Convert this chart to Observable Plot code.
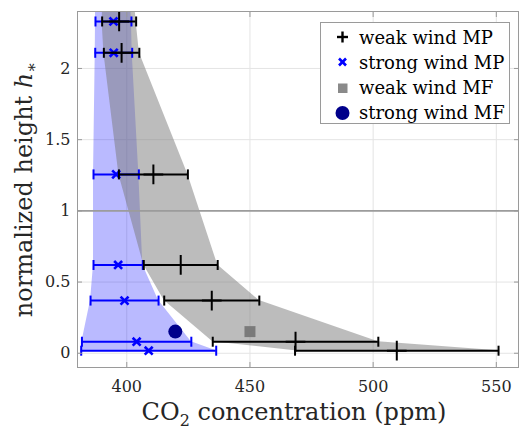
<!DOCTYPE html>
<html><head><meta charset="utf-8">
<script src="https://cdn.jsdelivr.net/npm/d3@7"></script>
<script src="https://cdn.jsdelivr.net/npm/@observablehq/plot@0.6"></script>
<style>
body{margin:0;background:#fff;}
#wrap{position:relative;width:519px;height:431px;overflow:hidden;}
#legend{position:absolute;left:320px;top:22px;width:190px;height:102px;border:1px solid #9a9a9a;background:#fff;font-family:"DejaVu Serif";font-size:18px;color:#000;box-sizing:border-box;}
.item{position:absolute;left:0;height:26px;display:flex;align-items:center;white-space:nowrap;}
.item svg{width:38px;height:26px;flex:none;}
</style></head><body><div id="wrap"></div>
<script>
// ---- data ----
const heights    = [2.33, 2.11, 1.256, 0.62, 0.37, 0.081, 0.018];
const weakMean   = [396.9, 397.9, 410.8, 421.9, 434.5, 468.5, 509.6];
const weakErr    = [6.9, 7.2, 14.0, 15.0, 19.3, 33.6, 41.3];
const strongMean = [394.6, 394.7, 395.7, 396.5, 399.1, 404.0, 408.9];
const strongErr  = [7.3, 7.5, 9.2, 10.0, 13.8, 22.2, 27.4];
// band extension above the top row (to the top edge)
const bandTopH       = 2.45;
const weakBandTop    = [390.2, 403.2];
const strongBandTop  = [387.3, 401.6];
// mixed-flow points
const mfLabels = ["weak wind MF", "strong wind MF"];
const mfX = [450, 419.7];
const mfH = [0.152, 0.152];
// axes
const xTicks = [400, 450, 500, 550];
const yTicks = [0, 0.5, 1, 1.5, 2];
const xDomain = [380, 559];
const yDomain = [-0.1, 2.4];
const refLine = [1];
const legendLabels = ["weak wind MP", "strong wind MP", "weak wind MF", "strong wind MF"];

// ---- tables ----
const weak = heights.map((h, i) => ({h, m: weakMean[i], lo: weakMean[i] - weakErr[i], hi: weakMean[i] + weakErr[i]}));
const strong = heights.map((h, i) => ({h, m: strongMean[i], lo: strongMean[i] - strongErr[i], hi: strongMean[i] + strongErr[i]}));
const weakBand = [{h: bandTopH, lo: weakBandTop[0], hi: weakBandTop[1]}, ...weak];
const strongBand = [{h: bandTopH, lo: strongBandTop[0], hi: strongBandTop[1]}, ...strong];
const mf = mfLabels.map((k, i) => ({k, x: mfX[i], h: mfH[i]}));

const cap = {draw(ctx, size) { const r = Math.sqrt(size / Math.PI); ctx.moveTo(0, -r); ctx.lineTo(0, r); }};

function bars(data, color) {
  return [
    Plot.ruleY(data, {y: "h", x1: "lo", x2: "hi", stroke: color, strokeWidth: 2}),
    Plot.dot(data, {x: "lo", y: "h", symbol: cap, r: 5, fill: "none", stroke: color, strokeWidth: 2}),
    Plot.dot(data, {x: "hi", y: "h", symbol: cap, r: 5, fill: "none", stroke: color, strokeWidth: 2})
  ];
}

const chart = Plot.plot({
  width: 519, height: 431,
  marginLeft: 77, marginTop: 11, marginRight: 1, marginBottom: 64,
  style: {fontFamily: "DejaVu Serif", fontSize: "16px", color: "#262626", background: "white", overflow: "visible"},
  x: {domain: xDomain, label: null},
  y: {domain: yDomain, label: null},
  marks: [
    Plot.gridX(xTicks, {stroke: "#e4e4e4", strokeOpacity: 1}),
    Plot.gridY(yTicks, {stroke: "#e4e4e4", strokeOpacity: 1}),
    Plot.areaX(strongBand, {y: "h", x1: "lo", x2: "hi", fill: "blue", fillOpacity: 0.27, clip: true}),
    Plot.areaX(weakBand, {y: "h", x1: "lo", x2: "hi", fill: "#7a7a7a", fillOpacity: 0.5, clip: true}),
    Plot.ruleY(refLine, {stroke: "#9c9c9c", strokeWidth: 1.6}),
    ...bars(strong, "blue"),
    Plot.dot(strong, {x: "m", y: "h", symbol: "times", r: 3.7, fill: "none", stroke: "blue", strokeWidth: 2.6}),
    ...bars(weak, "black"),
    Plot.dot(weak, {x: "m", y: "h", symbol: "plus", r: 6.4, fill: "none", stroke: "black", strokeWidth: 2}),
    Plot.dot(mf.filter(d => d.k === "weak wind MF"), {x: "x", y: "h", symbol: "square", r: 6.2, fill: "#7a7a7a", stroke: "none"}),
    Plot.dot(mf.filter(d => d.k === "strong wind MF"), {x: "x", y: "h", symbol: "circle", r: 7, fill: "#00008b", stroke: "none"}),
    Plot.frame({stroke: "#9a9a9a"}),
    // inward ticks
    Plot.axisX(xTicks, {anchor: "bottom", tickSize: 5, dy: -5, tickFormat: () => "", stroke: "#9a9a9a"}),
    Plot.axisX(xTicks, {anchor: "top", tickSize: 5, dy: 5, tickFormat: () => "", stroke: "#9a9a9a"}),
    Plot.axisY(yTicks, {anchor: "left", tickSize: 5, dx: 5, tickFormat: () => "", stroke: "#9a9a9a"}),
    Plot.axisY(yTicks, {anchor: "right", tickSize: 5, dx: -5, tickFormat: () => "", stroke: "#9a9a9a"}),
    // tick labels
    Plot.axisX(xTicks, {anchor: "bottom", tickSize: 0, tickPadding: 13, tickFormat: d => String(d), fill: "#262626"}),
    Plot.axisY(yTicks, {anchor: "left", tickSize: 0, tickPadding: 7, tickFormat: d => String(d), fill: "#262626"}),
    // axis titles
    Plot.text(["CO2 concentration (ppm)"], {frameAnchor: "bottom", textAnchor: "middle", dx: -4, dy: 45, lineAnchor: "middle", fontSize: 24, fill: "#262626"}),
    Plot.text(["normalized height h*"], {frameAnchor: "left", textAnchor: "middle", dx: -53, rotate: -90, lineAnchor: "middle", fontSize: 24, fill: "#262626"})
  ]
});

// rich text for titles
d3.select(chart).selectAll("text").each(function() {
  const t = d3.select(this);
  const s = this.textContent;
  if (s === "CO2 concentration (ppm)") {
    t.text(null);
    t.append("tspan").text("CO");
    t.append("tspan").attr("dy", 6).attr("font-size", 16).text("2");
    t.append("tspan").attr("dy", -6).text(" concentration (ppm)");
  } else if (s === "normalized height h*") {
    t.text(null);
    t.append("tspan").text("normalized height ");
    t.append("tspan").attr("font-style", "italic").text("h");
    t.append("tspan").attr("dy", 5).attr("font-size", 16).text("∗");
  }
});

const wrap = document.getElementById("wrap");
wrap.appendChild(chart);

// legend
const legend = document.createElement("div");
legend.id = "legend";
const symbols = [
  '<line x1="16" y1="13" x2="27" y2="13" stroke="black" stroke-width="2.4"/><line x1="21.5" y1="7.5" x2="21.5" y2="18.5" stroke="black" stroke-width="2.4"/>',
  '<line x1="18" y1="9.5" x2="25" y2="16.5" stroke="blue" stroke-width="2.6"/><line x1="18" y1="16.5" x2="25" y2="9.5" stroke="blue" stroke-width="2.6"/>',
  '<rect x="17" y="8.5" width="9.5" height="9.5" fill="#8a8a8a"/>',
  '<circle cx="21.5" cy="13" r="7" fill="#00008b"/>'
];
const rowTops = [1, 26.3, 51.6, 76.9];
legendLabels.forEach((lab, i) => {
  const it = document.createElement("div");
  it.className = "item";
  it.style.top = rowTops[i] + "px";
  it.innerHTML = '<svg viewBox="0 0 38 26">' + symbols[i] + '</svg><span>' + lab + '</span>';
  legend.appendChild(it);
});
wrap.appendChild(legend);
</script>
</body></html>
